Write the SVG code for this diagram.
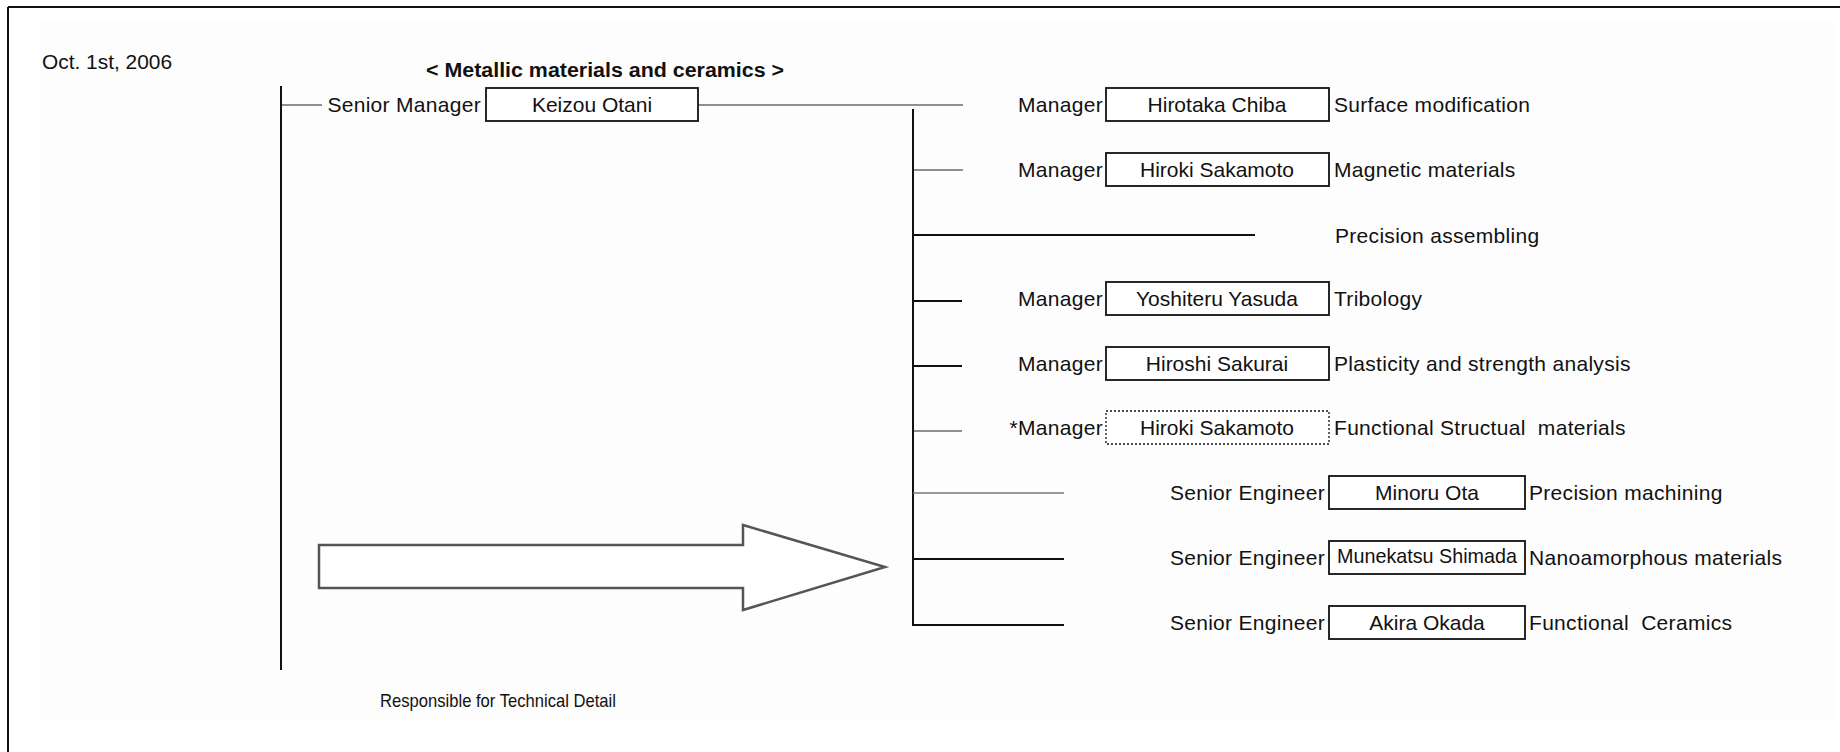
<svg xmlns="http://www.w3.org/2000/svg" width="1840" height="752" viewBox="0 0 1840 752">
  <style>
    text { font-family: "Liberation Sans", Arial, sans-serif; fill: #111; }
    .t { font-size: 21px; letter-spacing: 0.3px; }
    .lbl { font-size: 21px; letter-spacing: 0.3px; text-anchor: end; }
    .name { font-size: 21px; text-anchor: middle; }
    .title { font-size: 20px; font-weight: bold; text-anchor: middle; }
    .pre { white-space: pre; }
    .box { fill: #fff; stroke: #111; stroke-width: 1.8; }
    .dash { fill: #fff; stroke: #111; stroke-width: 1.3; stroke-dasharray: 2 2; }
    .thin { stroke: #222; stroke-width: 1.1; fill: none; }
    .thick { stroke: #111; stroke-width: 2; fill: none; }
    .grey { stroke: #777; stroke-width: 1.6; fill: none; }
  </style>

  <!-- page background and frame -->
  <rect x="0" y="0" width="1840" height="752" fill="#fff"/>
  <rect x="40" y="22" width="1795" height="697" fill="#fdfdfd"/>
  <line x1="8" y1="7" x2="1840" y2="7" stroke="#111" stroke-width="2"/>
  <line x1="8" y1="7" x2="8" y2="752" stroke="#111" stroke-width="2"/>

  <text x="42" y="69" font-size="20" textLength="130" lengthAdjust="spacingAndGlyphs">Oct. 1st, 2006</text>
  <text class="title" x="605" y="77" textLength="358" lengthAdjust="spacingAndGlyphs">&lt; Metallic materials and ceramics &gt;</text>

  <!-- connectors -->
  <g id="connectors">
    <line class="thick" x1="281" y1="86" x2="281" y2="670"/>
    <line class="thin" x1="281" y1="105" x2="322" y2="105"/>
    <line class="thin" x1="698" y1="105" x2="963" y2="105"/>
    <line class="thick" x1="913" y1="109" x2="913" y2="625"/>
    <line class="thin" x1="913" y1="170" x2="963" y2="170"/>
    <line class="thick" x1="913" y1="235" x2="1255" y2="235"/>
    <line class="thick" x1="913" y1="301" x2="962" y2="301"/>
    <line class="thick" x1="913" y1="366" x2="962" y2="366"/>
    <line class="thin" x1="913" y1="431" x2="962" y2="431"/>
    <line class="grey" x1="913" y1="493" x2="1064" y2="493"/>
    <line class="thick" x1="913" y1="559" x2="1064" y2="559"/>
    <line class="thick" x1="912" y1="625" x2="1064" y2="625"/>
  </g>

  <!-- senior manager -->
  <g id="node-otani">
    <text class="lbl" x="481" y="112">Senior Manager</text>
    <rect class="box" x="486" y="88" width="212" height="33"/>
    <text class="name" x="592" y="112">Keizou Otani</text>
  </g>

  <!-- managers -->
  <g id="node-chiba">
    <text class="lbl" x="1103" y="112">Manager</text>
    <rect class="box" x="1106" y="88" width="223" height="33"/>
    <text class="name" x="1217" y="112">Hirotaka Chiba</text>
    <text class="t" x="1334" y="112">Surface modification</text>
  </g>
  <g id="node-sakamoto">
    <text class="lbl" x="1103" y="177">Manager</text>
    <rect class="box" x="1106" y="153" width="223" height="33"/>
    <text class="name" x="1217" y="177">Hiroki Sakamoto</text>
    <text class="t" x="1334" y="177">Magnetic materials</text>
  </g>
  <g id="node-assembling">
    <text class="t" x="1335" y="243">Precision assembling</text>
  </g>
  <g id="node-yasuda">
    <text class="lbl" x="1103" y="306">Manager</text>
    <rect class="box" x="1106" y="282" width="223" height="33"/>
    <text class="name" x="1217" y="306">Yoshiteru Yasuda</text>
    <text class="t" x="1334" y="306">Tribology</text>
  </g>
  <g id="node-sakurai">
    <text class="lbl" x="1103" y="371">Manager</text>
    <rect class="box" x="1106" y="347" width="223" height="33"/>
    <text class="name" x="1217" y="371">Hiroshi Sakurai</text>
    <text class="t" x="1334" y="371">Plasticity and strength analysis</text>
  </g>
  <g id="node-sakamoto-acting">
    <text class="lbl" x="1103" y="435">*Manager</text>
    <rect class="dash" x="1106" y="411" width="223" height="33"/>
    <text class="name" x="1217" y="435">Hiroki Sakamoto</text>
    <text class="t pre" x="1334" y="435">Functional Structual  materials</text>
  </g>

  <!-- senior engineers -->
  <g id="node-ota">
    <text class="lbl" x="1325" y="500">Senior Engineer</text>
    <rect class="box" x="1329" y="476" width="196" height="33"/>
    <text class="name" x="1427" y="500">Minoru Ota</text>
    <text class="t" x="1529" y="500">Precision machining</text>
  </g>
  <g id="node-shimada">
    <text class="lbl" x="1325" y="565">Senior Engineer</text>
    <rect class="box" x="1329" y="541" width="196" height="33"/>
    <text class="name" x="1427" y="563" font-size="16" textLength="180" lengthAdjust="spacingAndGlyphs">Munekatsu Shimada</text>
    <text class="t" x="1529" y="565">Nanoamorphous materials</text>
  </g>
  <g id="node-okada">
    <text class="lbl" x="1325" y="630">Senior Engineer</text>
    <rect class="box" x="1329" y="606" width="196" height="33"/>
    <text class="name" x="1427" y="630">Akira Okada</text>
    <text class="t pre" x="1529" y="630">Functional  Ceramics</text>
  </g>

  <!-- block arrow -->
  <g id="node-arrow">
    <polygon points="319,545 743,545 743,525 885,567 743,610 743,588 319,588" fill="#fff" stroke="#555" stroke-width="2.5" stroke-linejoin="miter"/>
    <text x="380" y="707" font-size="19" textLength="236" lengthAdjust="spacingAndGlyphs">Responsible for Technical Detail</text>
  </g>
</svg>
